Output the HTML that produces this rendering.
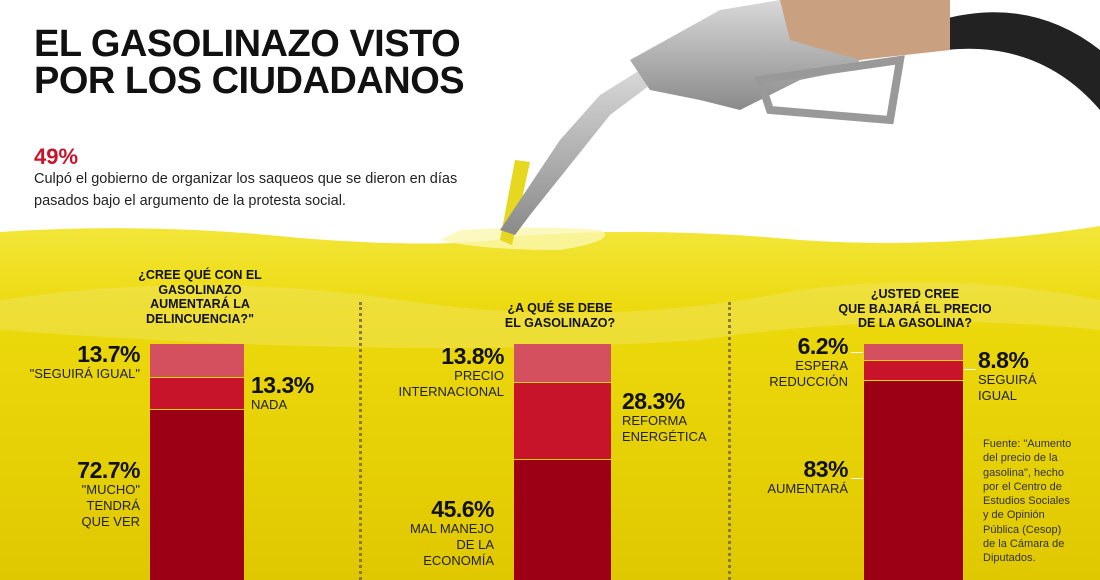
<!DOCTYPE html>
<html><head><meta charset="utf-8"><style>
*{margin:0;padding:0;box-sizing:border-box}
body{width:1100px;height:580px;overflow:hidden;position:relative;background:#fff;font-family:"Liberation Sans",sans-serif;color:#111}
.a{position:absolute}
.big{font-weight:bold;font-size:23px;letter-spacing:-0.5px;line-height:24px}
.lb{font-size:13px;line-height:16px;color:#222}
.r{text-align:right}
.q{font-weight:bold;font-size:12.5px;line-height:14.5px;text-align:center}
.dot{border-left:3px dotted #8a7a40;width:0}
</style></head><body>
<svg class="a" style="left:0;top:0" width="1100" height="580">
<defs>
<linearGradient id="y" x1="0" y1="0" x2="0" y2="1">
<stop offset="0" stop-color="#f2e63a"/><stop offset="0.25" stop-color="#ecd90c"/><stop offset="1" stop-color="#e0c800"/></linearGradient>
<linearGradient id="m" x1="0" y1="0" x2="0" y2="1"><stop offset="0" stop-color="#d8d8d8"/><stop offset="1" stop-color="#8a8a8a"/></linearGradient>
</defs>
<path d="M0 232 Q150 222 300 238 Q450 250 520 236 Q650 226 800 240 Q950 250 1100 226 L1100 580 L0 580Z" fill="url(#y)"/>
<path d="M0 300 Q200 270 400 300 Q600 330 800 290 Q950 270 1100 300 L1100 330 Q900 310 700 340 Q400 360 0 330Z" fill="#f0e460" opacity="0.5"/>
<path d="M440 240 Q480 250 560 250 Q620 240 600 230 Q540 225 460 230Z" fill="#fbf7b0" opacity="0.8"/>
<path d="M500 240 L515 160 L530 162 L512 245Z" fill="#e6d820"/>
<path d="M940 20 Q1030 -5 1100 50 L1100 110 Q1040 40 945 50Z" fill="#222"/>
<path d="M500 230 L520 200 L560 140 L600 95 L640 70 L650 85 L610 115 L570 165 L530 215 L515 235Z" fill="url(#m)"/>
<path d="M630 60 L720 10 L780 0 L870 0 L880 40 L850 70 L800 80 L760 100 L740 110 L700 100 L650 90Z" fill="url(#m)"/>
<path d="M760 80 L900 60 L890 120 L770 110Z" fill="none" stroke="#999" stroke-width="8"/>
<path d="M780 0 L950 0 L950 50 L860 60 L790 40Z" fill="#c9a080"/>
</svg>
<div class="a" style="left:34px;top:26px;font-weight:bold;font-size:38px;line-height:37px;letter-spacing:-0.5px">EL GASOLINAZO VISTO<br>POR LOS CIUDADANOS</div>
<div class="a" style="left:34px;top:144px;font-weight:bold;font-size:22px;color:#c8142a">49%</div>
<div class="a" style="left:34px;top:168px;font-size:14.5px;line-height:22px;color:#222">Culpó el gobierno de organizar los saqueos que se dieron en días<br>pasados bajo el argumento de la protesta social.</div>

<div class="a dot" style="left:359px;top:302px;height:278px"></div>
<div class="a dot" style="left:728px;top:302px;height:278px"></div>

<div class="a q" style="left:130px;top:268px;width:140px">¿CREE QUÉ CON EL<br>GASOLINAZO<br>AUMENTARÁ LA<br>DELINCUENCIA?"</div>
<div class="a" style="left:150px;top:344px;width:94px;height:33px;background:#d4505e"></div>
<div class="a" style="left:150px;top:378px;width:94px;height:31px;background:#c8142a"></div>
<div class="a" style="left:150px;top:410px;width:94px;height:170px;background:#9b0014"></div>
<div class="a r" style="left:20px;top:342px;width:120px"><div class="big">13.7%</div><div class="lb">"SEGUIRÁ IGUAL"</div></div>
<div class="a" style="left:251px;top:373px"><div class="big">13.3%</div><div class="lb">NADA</div></div>
<div class="a r" style="left:20px;top:458px;width:120px"><div class="big">72.7%</div><div class="lb">"MUCHO"<br>TENDRÁ<br>QUE VER</div></div>

<div class="a q" style="left:490px;top:301px;width:140px">¿A QUÉ SE DEBE<br>EL GASOLINAZO?</div>
<div class="a" style="left:514px;top:344px;width:97px;height:38px;background:#d4505e"></div>
<div class="a" style="left:514px;top:383px;width:97px;height:76px;background:#c8142a"></div>
<div class="a" style="left:514px;top:460px;width:97px;height:120px;background:#9b0014"></div>
<div class="a r" style="left:360px;top:344px;width:144px"><div class="big">13.8%</div><div class="lb">PRECIO<br>INTERNACIONAL</div></div>
<div class="a" style="left:622px;top:389px"><div class="big">28.3%</div><div class="lb">REFORMA<br>ENERGÉTICA</div></div>
<div class="a r" style="left:360px;top:497px;width:134px"><div class="big">45.6%</div><div class="lb">MAL MANEJO<br>DE LA<br>ECONOMÍA</div></div>

<div class="a q" style="left:810px;top:287px;width:210px">¿USTED CREE<br>QUE BAJARÁ EL PRECIO<br>DE LA GASOLINA?</div>
<div class="a" style="left:864px;top:344px;width:99px;height:16px;background:#d4505e"></div>
<div class="a" style="left:864px;top:361px;width:99px;height:19px;background:#c8142a"></div>
<div class="a" style="left:864px;top:381px;width:99px;height:199px;background:#9b0014"></div>
<div class="a r" style="left:730px;top:334px;width:118px"><div class="big">6.2%</div><div class="lb">ESPERA<br>REDUCCIÓN</div></div>
<div class="a" style="left:978px;top:348px"><div class="big">8.8%</div><div class="lb">SEGUIRÁ<br>IGUAL</div></div>
<div class="a r" style="left:730px;top:457px;width:118px"><div class="big">83%</div><div class="lb">AUMENTARÁ</div></div>
<div class="a" style="left:851px;top:352px;width:12px;border-top:1px solid #fff"></div>
<div class="a" style="left:964px;top:369px;width:12px;border-top:1px solid #fff"></div>
<div class="a" style="left:851px;top:478px;width:12px;border-top:1px solid #fff"></div>
<div class="a" style="left:983px;top:437px;font-size:11px;line-height:14.3px;color:#333">Fuente: "Aumento<br>del precio de la<br>gasolina", hecho<br>por el Centro de<br>Estudios Sociales<br>y de Opinión<br>Pública (Cesop)<br>de la Cámara de<br>Diputados.</div>
</body></html>
